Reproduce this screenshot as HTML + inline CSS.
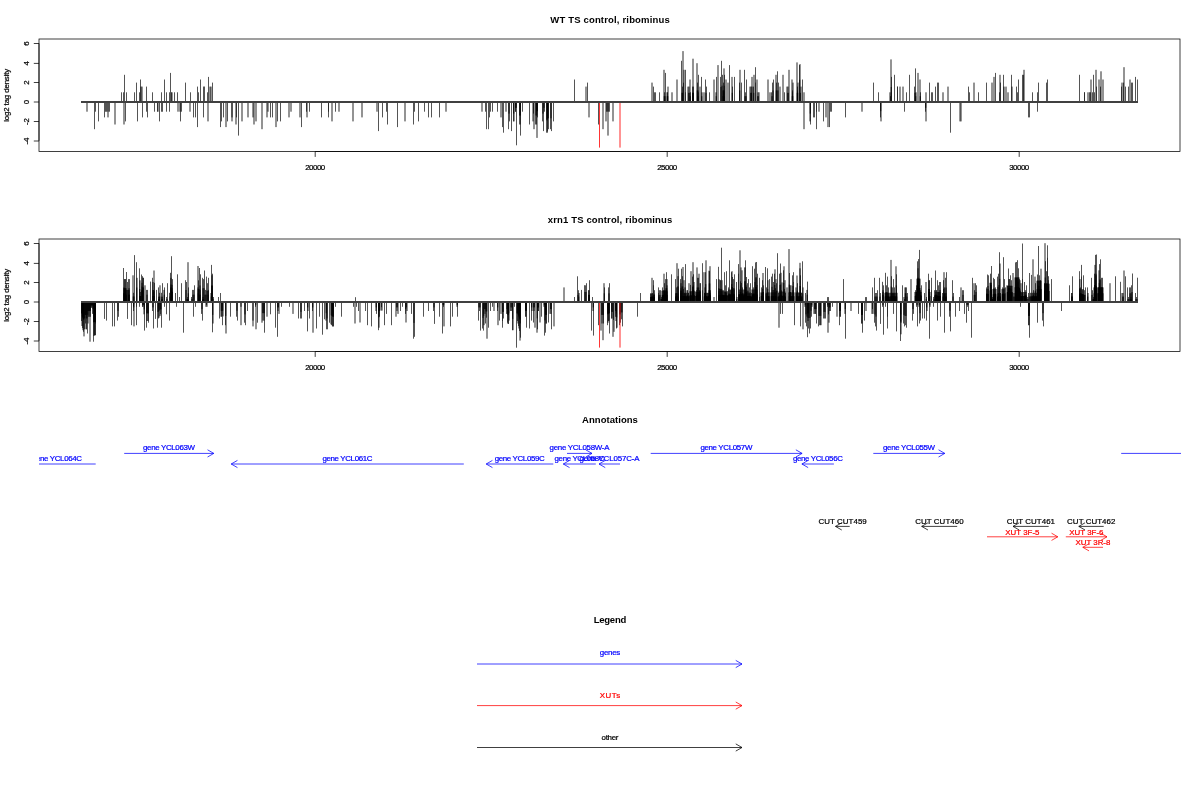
<!DOCTYPE html>
<html><head><meta charset="utf-8"><title>plot</title>
<style>
html,body{margin:0;padding:0;background:#fff;}
svg{display:block;font-family:"Liberation Sans",sans-serif;}
svg{will-change:transform;}
</style></head><body>
<svg width="1200" height="800" viewBox="0 0 1200 800">
<rect width="1200" height="800" fill="#fff"/>
<path d="M121.5 102V92.3M123.5 102V92.3M124.5 102V74.8M126.5 102V92.3M134.5 102V92.3M136.5 102V82.6M139.5 102V92.3M140.5 102V79.5M146.5 102V86.6M152.5 102V92.3M161.5 102V92.3M164.5 102V79.5M166.5 102V92.3M169.5 102V92.3M170.5 102V72.9M171.5 102V92.3M174.5 102V92.3M177.5 102V92.3M185.5 102V82.6M190.5 102V92.3M197.5 102V86.6M198.5 102V92.3M200.5 102V79.5M207.5 102V92.3M208.5 102V76.9M212.5 102V82.6M94.5 102V129.2M95.5 102V111.7M98.5 102V121.4M104.5 102V117.4M109.5 102V111.7M125.5 102V121.4M137.5 102V121.4M142.5 102V117.4M146.5 102V111.7M147.5 102V117.4M154.5 102V111.7M157.5 102V111.7M159.5 102V121.4M166.5 102V111.7M169.5 102V111.7M180.5 102V121.4M181.5 102V111.7M193.5 102V117.4M195.5 102V117.4M197.5 102V127.1M203.5 102V117.4M220.5 102V127.1M221.5 102V121.4M223.5 102V117.4M227.5 102V121.4M236.5 102V117.4M238.5 102V135.6M270.5 102V117.4M272.5 102V117.4M277.5 102V121.4M280.5 102V121.4M301.5 102V127.1M306.5 102V111.7M309.5 102V111.7M321.5 102V117.4M328.5 102V117.4M328.5 102V111.7M335.5 102V111.7M378.5 102V131.1M382.5 102V117.4M386.5 102V111.7M387.5 102V124.5M397.5 102V127.1M413.5 102V124.5M414.5 102V111.7M418.5 102V121.4M424.5 102V111.7M428.5 102V117.4M431.5 102V117.4M439.5 102V117.4M485.5 102V111.7M486.5 102V129.2M488.5 102V129.2M489.5 102V117.4M490.5 102V111.7M492.5 102V111.7M497.5 102V111.7M502.5 102V127.1M503.5 102V132.7M508.5 102V129.2M509.5 102V121.4M511.5 102V131.1M513.5 102V121.4M515.5 102V111.7M515.5 102V111.7M516.5 102V145.3M519.5 102V124.5M520.5 102V124.5M520.5 102V135.6M522.5 102V111.7M529.5 102V124.5M535.5 102V124.5M536.5 102V124.5M537.5 102V117.4M542.5 102V121.4M543.5 102V131.1M544.5 102V111.7M546.5 102V132.7M547.5 102V132.7M547.5 102V131.1M548.5 102V129.2M550.5 102V129.2M551.5 102V131.1M553.5 102V121.4M574.5 102V79.5M587.5 102V82.6M598.5 102V124.5M606.5 102V111.7M607.5 102V111.7M608.5 102V111.7M609.5 102V111.7M653.5 102V86.6M654.5 102V92.3M655.5 102V92.3M659.5 102V92.3M665.5 102V72.9M664.5 102V92.3M667.5 102V92.3M681.5 102V60.8M685.5 102V69.8M682.5 102V86.6M685.5 102V92.3M690.5 102V92.3M692.5 102V86.6M693.5 102V86.6M698.5 102V74.8M697.5 102V82.6M698.5 102V92.3M701.5 102V76.9M705.5 102V79.5M706.5 102V86.6M709.5 102V92.3M716.5 102V76.9M720.5 102V76.9M721.5 102V60.8M722.5 102V74.8M724.5 102V74.8M723.5 102V82.6M723.5 102V92.3M729.5 102V65.1M732.5 102V86.6M734.5 102V76.9M739.5 102V82.6M741.5 102V82.6M744.5 102V69.8M746.5 102V79.5M745.5 102V92.3M753.5 102V86.6M755.5 102V67.2M755.5 102V82.6M771.5 102V92.3M772.5 102V82.6M773.5 102V79.5M776.5 102V82.6M777.5 102V71.3M778.5 102V82.6M784.5 102V92.3M792.5 102V92.3M797.5 102V86.6M799.5 102V65.1M802.5 102V79.5M873.5 102V82.6M878.5 102V92.3M891.5 102V76.9M894.5 102V74.8M897.5 102V86.6M897.5 102V86.6M906.5 102V92.3M909.5 102V74.8M914.5 102V86.6M915.5 102V68.4M920.5 102V92.3M929.5 102V82.6M931.5 102V92.3M932.5 102V92.3M935.5 102V86.6M937.5 102V82.6M938.5 102V82.6M810.5 102V124.5M813.5 102V117.4M814.5 102V117.4M816.5 102V129.2M816.5 102V111.7M823.5 102V121.4M829.5 102V127.1M830.5 102V111.7M831.5 102V111.7M845.5 102V117.4M880.5 102V117.4M904.5 102V111.7M925.5 102V111.7M968.5 102V86.6M969.5 102V92.3M978.5 102V92.3M986.5 102V82.6M995.5 102V72.9M1000.5 102V82.6M999.5 102V92.3M1003.5 102V74.8M1011.5 102V74.8M1016.5 102V86.6M1017.5 102V92.3M1018.5 102V79.5M1022.5 102V74.8M1023.5 102V74.8M1032.5 102V92.3M1037.5 102V92.3M1038.5 102V82.6M1046.5 102V82.6M1047.5 102V79.5M1079.5 102V74.8M1084.5 102V92.3M1084.5 102V92.3M1092.5 102V92.3M1093.5 102V74.8M1094.5 102V92.3M950.5 102V132.7M1028.5 102V117.4M1029.5 102V117.4M1037.5 102V111.7M1096.5 102V86.6M1100.5 102V86.6M1121.5 102V86.6M1123.5 102V82.6M1125.5 102V86.6M1128.5 102V86.6M1131.5 102V82.6M1132.5 102V82.6M1135.5 102V76.9M1137.5 102V79.5M533.5 102V113.6M667.5 102V96.2M683.5 102V82.7M688.5 102V92.8M689.5 102V92.8M750.5 102V92.8M751.5 102V92.8M751.5 102V92.8M757.5 102V96.2M758.5 102V96.2M787.5 102V92.8M788.5 102V92.8M792.5 102V90.4M797.5 102V90.4M800.5 102V92.8M890.5 102V96.2" stroke="#1c1c1c" stroke-width="0.75" fill="none"/>
<path d="M141 102V86.6M142 102V86.6M172 102V92.3M204 102V86.6M204 102V86.6M210 102V86.6M211 102V86.6M87 102V111.7M106 102V111.7M106 102V111.7M108 102V117.4M108 102V111.7M115 102V124.5M124 102V124.5M158 102V111.7M162 102V111.7M162 102V111.7M178 102V111.7M180 102V111.7M190 102V111.7M208 102V121.4M226 102V127.1M232 102V117.4M232 102V121.4M236 102V124.5M242 102V121.4M248 102V117.4M253 102V117.4M254 102V124.5M256 102V121.4M262 102V129.2M267 102V117.4M268 102V111.7M276 102V127.1M289 102V117.4M291 102V111.7M300 102V117.4M307 102V117.4M332 102V121.4M339 102V111.7M353 102V121.4M362 102V117.4M377 102V111.7M405 102V121.4M446 102V111.7M482 102V111.7M501 102V117.4M506 102V111.7M514 102V121.4M533 102V121.4M534 102V129.2M537 102V137.9M586 102V86.6M589 102V117.4M603 102V129.2M606 102V121.4M608 102V135.6M613 102V121.4M652 102V82.6M664 102V69.8M667 102V92.3M668 102V86.6M672 102V92.3M677 102V79.5M683 102V51.1M684 102V69.8M688 102V86.6M689 102V86.6M690 102V79.5M693 102V58.7M697 102V63.2M700 102V86.6M702 102V92.3M704 102V92.3M714 102V79.5M716 102V92.3M718 102V65.1M724 102V68.4M726 102V79.5M728 102V82.6M732 102V76.9M740 102V69.8M750 102V86.6M751 102V86.6M752 102V86.6M752 102V76.9M754 102V74.8M757 102V79.5M758 102V92.3M759 102V92.3M768 102V79.5M770 102V92.3M776 102V74.8M780 102V86.6M783 102V74.8M787 102V86.6M788 102V86.6M789 102V69.8M792 102V79.5M793 102V82.6M797 102V62.4M798 102V82.6M800 102V64.1M801 102V86.6M804 102V92.3M804 102V129.2M890 102V92.3M891 102V59.4M900 102V86.6M903 102V86.6M916 102V92.3M918 102V72.9M920 102V79.5M926 102V92.3M943 102V92.3M948 102V86.6M810 102V121.4M819 102V111.7M826 102V117.4M828 102V127.1M862 102V111.7M881 102V121.4M926 102V121.4M974 102V82.6M992 102V82.6M994 102V76.9M1000 102V74.8M1004 102V86.6M1006 102V86.6M1008 102V92.3M1012 102V86.6M1024 102V69.8M1088 102V92.3M1090 102V92.3M1090 102V92.3M1091 102V79.5M960 102V121.4M961 102V121.4M1096 102V69.8M1099 102V79.5M1101 102V71.3M1103 102V79.5M1122 102V82.6M1124 102V67.2M1130 102V79.5M509 102V113.6M516 102V107.8M516 102V107.8M520 102V115.5M520 102V115.5M536 102V115.5M537 102V111.2M543 102V113.6M544 102V107.8M547 102V120.4M547 102V119.5M548 102V118.3M548 102V118.3M551 102V118.3M665 102V96.2M682 102V92.8M693 102V92.8M698 102V90.4M698 102V96.2M706 102V92.8M721 102V87.0M722 102V85.7M723 102V90.4M723 102V96.2M724 102V90.4M724 102V96.2M745 102V96.2M746 102V96.2M772 102V96.2M773 102V90.4M777 102V90.4M778 102V90.4M915 102V92.8" stroke="#000" stroke-width="0.85" fill="none"/>
<path d="M513.75 102V113.6M536.75 102V115.5M537.25 102V111.2M664.25 102V96.2M667.25 102V96.2M667.75 102V96.2M682.75 102V92.8M690.25 102V96.2M692.75 102V92.8M693.25 102V92.8M697.25 102V90.4M701.75 102V96.2M716.25 102V96.2M723.75 102V90.4M723.75 102V96.2M724.25 102V85.7M732.25 102V92.8M739.75 102V90.4M753.75 102V92.8M776.25 102V90.4M792.25 102V96.2M792.75 102V96.2M797.25 102V92.8M797.75 102V92.8M799.75 102V79.8M810.25 102V113.6M880.75 102V111.2M891.25 102V87.0M915.75 102V96.2M920.25 102V96.2M925.75 102V107.8" stroke="#000" stroke-width="0.8" fill="none"/>
<path d="M599.5 102V147.6" stroke="#ff0000" stroke-width="0.8" fill="none"/>
<path d="M620 102V147.6" stroke="#ff0000" stroke-width="0.85" fill="none"/>
<rect x="81" y="101" width="1057" height="2" fill="#fff"/>
<line x1="81" y1="102" x2="1138" y2="102" stroke="#000" stroke-width="1.5"/>
<rect x="39" y="39" width="1141" height="112.5" fill="none" stroke="#000" stroke-width="0.75" stroke-opacity="1"/>
<line x1="39" y1="43.4" x2="39" y2="140.8" stroke="#000" stroke-width="0.75"/>
<line x1="33.8" y1="43.5" x2="39" y2="43.5" stroke="#000" stroke-width="0.75"/>
<text x="28.6" y="43.5" font-size="7.92" fill="#000" stroke="#000" stroke-width="0.22" text-anchor="middle" transform="rotate(-90 28.6 43.5)">6</text>
<line x1="33.8" y1="63.4" x2="39" y2="63.4" stroke="#000" stroke-width="0.75"/>
<text x="28.6" y="63.4" font-size="7.92" fill="#000" stroke="#000" stroke-width="0.22" text-anchor="middle" transform="rotate(-90 28.6 63.4)">4</text>
<line x1="33.8" y1="82.5" x2="39" y2="82.5" stroke="#000" stroke-width="0.75"/>
<text x="28.6" y="82.5" font-size="7.92" fill="#000" stroke="#000" stroke-width="0.22" text-anchor="middle" transform="rotate(-90 28.6 82.5)">2</text>
<line x1="33.8" y1="102" x2="39" y2="102" stroke="#000" stroke-width="0.75"/>
<text x="28.6" y="102" font-size="7.92" fill="#000" stroke="#000" stroke-width="0.22" text-anchor="middle" transform="rotate(-90 28.6 102)">0</text>
<line x1="33.8" y1="121.5" x2="39" y2="121.5" stroke="#000" stroke-width="0.75"/>
<text x="28.6" y="121.5" font-size="7.92" fill="#000" stroke="#000" stroke-width="0.22" text-anchor="middle" transform="rotate(-90 28.6 121.5)">-2</text>
<line x1="33.8" y1="141" x2="39" y2="141" stroke="#000" stroke-width="0.75"/>
<text x="28.6" y="141" font-size="7.92" fill="#000" stroke="#000" stroke-width="0.22" text-anchor="middle" transform="rotate(-90 28.6 141)">-4</text>
<text x="9.4" y="95.25" font-size="7.92" fill="#000" stroke="#000" stroke-width="0.22" text-anchor="middle" textLength="53" lengthAdjust="spacing" transform="rotate(-90 9.4 95.25)">log2 tag density</text>
<line x1="315.2" y1="151.5" x2="1019.2" y2="151.5" stroke="#000" stroke-width="0.75"/>
<line x1="315.2" y1="151.5" x2="315.2" y2="156.9" stroke="#000" stroke-width="0.75"/>
<text x="315.2" y="169.9" font-size="7.92" fill="#000" stroke="#000" stroke-width="0.22" text-anchor="middle" textLength="20" lengthAdjust="spacing">20000</text>
<line x1="667.2" y1="151.5" x2="667.2" y2="156.9" stroke="#000" stroke-width="0.75"/>
<text x="667.2" y="169.9" font-size="7.92" fill="#000" stroke="#000" stroke-width="0.22" text-anchor="middle" textLength="20" lengthAdjust="spacing">25000</text>
<line x1="1019.2" y1="151.5" x2="1019.2" y2="156.9" stroke="#000" stroke-width="0.75"/>
<text x="1019.2" y="169.9" font-size="7.92" fill="#000" stroke="#000" stroke-width="0.22" text-anchor="middle" textLength="20" lengthAdjust="spacing">30000</text>
<text x="610" y="23" font-size="9.5" fill="#000" stroke="#000" stroke-width="0" text-anchor="middle" font-weight="bold" textLength="119.5" lengthAdjust="spacing">WT TS control, ribominus</text>
<path d="M81.5 302V321.0M82.5 302V328.1M83.5 302V331.8M84.5 302V329.3M85.5 302V323.5M86.5 302V329.3M87.5 302V333.5M88.5 302V316.8M89.5 302V316.8M90.5 302V316.8M91.5 302V307.7M92.5 302V313.9M93.5 302V341.7M94.5 302V335.2M95.5 302V335.2M95.5 302V323.5M104.5 302V318.9M106.5 302V320.6M112.5 302V326.4M114.5 302V326.4M117.5 302V320.6M118.5 302V316.8M127.5 302V318.9M131.5 302V325.2M133.5 302V306.0M133.5 302V311.0M136.5 302V325.2M136.5 302V306.8M139.5 302V306.8M142.5 302V306.8M144.5 302V330.6M146.5 302V327.7M148.5 302V322.7M152.5 302V311.0M153.5 302V328.5M155.5 302V318.9M157.5 302V327.7M158.5 302V318.5M160.5 302V314.3M161.5 302V327.7M164.5 302V306.8M166.5 302V314.3M169.5 302V320.6M123.5 302V268.0M124.5 302V279.1M125.5 302V279.1M126.5 302V272.0M127.5 302V282.0M128.5 302V279.1M129.5 302V279.1M133.5 302V292.8M134.5 302V255.1M136.5 302V262.2M139.5 302V268.3M140.5 302V292.0M141.5 302V274.5M142.5 302V276.2M143.5 302V277.8M146.5 302V289.9M147.5 302V289.9M150.5 302V281.6M152.5 302V277.8M154.5 302V282.8M153.5 302V292.0M156.5 302V289.9M158.5 302V287.4M159.5 302V292.8M161.5 302V292.8M162.5 302V283.2M164.5 302V287.4M166.5 302V297.0M167.5 302V283.2M169.5 302V292.8M170.5 302V272.8M171.5 302V256.2M172.5 302V279.1M175.5 302V293.0M177.5 302V274.3M179.5 302V297.0M181.5 302V283.2M185.5 302V280.2M186.5 302V282.0M187.5 302V297.0M188.5 302V287.4M191.5 302V297.0M192.5 302V289.9M193.5 302V289.9M194.5 302V285.3M198.5 302V280.3M199.5 302V268.0M200.5 302V274.3M202.5 302V277.8M203.5 302V279.1M204.5 302V270.5M205.5 302V289.9M206.5 302V276.6M207.5 302V283.2M208.5 302V277.8M208.5 302V289.9M211.5 302V264.9M212.5 302V273.7M213.5 302V297.0M218.5 302V297.0M220.5 302V293.0M176.5 302V306.8M183.5 302V332.7M193.5 302V316.7M195.5 302V306.8M201.5 302V313.9M202.5 302V320.6M212.5 302V332.3M219.5 302V318.5M221.5 302V316.7M222.5 302V325.2M225.5 302V325.2M230.5 302V316.7M236.5 302V316.7M237.5 302V320.6M244.5 302V322.7M245.5 302V325.2M247.5 302V311.0M255.5 302V306.8M257.5 302V322.7M264.5 302V332.7M270.5 302V314.3M275.5 302V327.7M277.5 302V336.8M281.5 302V306.8M289.5 302V306.8M298.5 302V318.5M300.5 302V318.5M301.5 302V318.5M304.5 302V311.0M307.5 302V331.4M309.5 302V318.5M312.5 302V311.0M316.5 302V328.5M319.5 302V316.7M322.5 302V334.7M324.5 302V319.3M326.5 302V329.3M327.5 302V329.3M329.5 302V322.7M331.5 302V325.2M332.5 302V326.4M333.5 302V326.4M335.5 302V306.8M341.5 302V316.7M353.5 302V306.8M356.5 302V306.8M358.5 302V311.0M355.5 302V297.2M365.5 302V311.0M367.5 302V325.2M371.5 302V326.4M376.5 302V313.9M378.5 302V330.2M379.5 302V316.7M384.5 302V325.2M386.5 302V313.9M391.5 302V325.2M400.5 302V311.0M402.5 302V306.8M405.5 302V313.9M411.5 302V313.9M413.5 302V338.7M414.5 302V336.8M423.5 302V316.7M428.5 302V311.0M433.5 302V311.0M434.5 302V323.9M439.5 302V316.7M442.5 302V333.5M443.5 302V306.8M450.5 302V326.4M452.5 302V316.7M457.5 302V316.7M478.5 302V320.6M479.5 302V311.0M480.5 302V330.6M482.5 302V328.5M483.5 302V330.6M485.5 302V323.5M486.5 302V317.7M488.5 302V327.7M490.5 302V311.0M492.5 302V306.8M497.5 302V311.0M499.5 302V320.6M502.5 302V327.7M502.5 302V321.0M503.5 302V318.5M506.5 302V313.9M507.5 302V322.7M508.5 302V323.9M510.5 302V311.0M511.5 302V311.0M512.5 302V330.2M514.5 302V306.8M516.5 302V347.7M517.5 302V321.0M518.5 302V326.0M519.5 302V331.0M520.5 302V337.7M525.5 302V316.7M526.5 302V327.7M529.5 302V328.5M531.5 302V320.6M533.5 302V322.5M537.5 302V329.3M538.5 302V311.0M541.5 302V316.7M544.5 302V335.6M545.5 302V332.7M546.5 302V323.5M548.5 302V322.5M551.5 302V329.3M591.5 302V330.6M593.5 302V335.6M598.5 302V325.2M603.5 302V323.5M607.5 302V325.2M608.5 302V321.0M609.5 302V333.5M611.5 302V318.5M615.5 302V316.8M616.5 302V328.5M619.5 302V325.2M620.5 302V322.7M621.5 302V319.3M622.5 302V326.4M637.5 302V316.7M780.5 302V313.9M782.5 302V313.9M794.5 302V325.2M800.5 302V326.4M805.5 302V322.7M806.5 302V326.4M807.5 302V337.2M808.5 302V328.5M809.5 302V333.5M810.5 302V328.5M811.5 302V316.7M815.5 302V313.9M816.5 302V323.5M818.5 302V326.4M819.5 302V325.2M820.5 302V325.2M823.5 302V318.5M824.5 302V318.5M825.5 302V318.5M827.5 302V306.8M829.5 302V311.0M830.5 302V311.0M832.5 302V306.8M839.5 302V325.2M840.5 302V316.7M845.5 302V338.7M858.5 302V313.9M861.5 302V323.5M862.5 302V332.7M864.5 302V320.6M874.5 302V322.7M875.5 302V326.4M876.5 302V330.6M880.5 302V323.9M882.5 302V306.8M883.5 302V334.7M885.5 302V306.8M887.5 302V328.5M887.5 302V316.7M893.5 302V313.9M896.5 302V331.4M900.5 302V341.0M903.5 302V323.5M904.5 302V326.4M905.5 302V325.2M906.5 302V327.7M912.5 302V320.6M913.5 302V313.9M916.5 302V306.8M917.5 302V326.4M919.5 302V323.5M920.5 302V320.6M922.5 302V318.5M924.5 302V318.5M926.5 302V320.6M929.5 302V338.7M933.5 302V306.8M937.5 302V320.6M940.5 302V316.7M944.5 302V332.7M949.5 302V316.7M950.5 302V331.4M955.5 302V316.7M959.5 302V311.0M964.5 302V313.9M966.5 302V322.7M967.5 302V306.8M968.5 302V311.0M971.5 302V337.7M1020.5 302V306.8M1028.5 302V325.2M1029.5 302V337.7M1037.5 302V322.7M1042.5 302V320.6M1043.5 302V326.4M1061.5 302V311.0M574.5 302V297.0M577.5 302V276.3M578.5 302V290.2M581.5 302V289.9M584.5 302V285.2M585.5 302V285.3M586.5 302V283.2M588.5 302V290.2M589.5 302V280.2M592.5 302V297.0M604.5 302V287.4M608.5 302V287.4M609.5 302V283.2M640.5 302V293.0M653.5 302V280.2M653.5 302V285.3M654.5 302V290.2M652.5 302V293.0M658.5 302V287.4M658.5 302V293.0M659.5 302V290.2M660.5 302V290.2M661.5 302V297.0M662.5 302V287.4M664.5 302V283.2M665.5 302V279.1M666.5 302V272.2M663.5 302V290.2M666.5 302V290.2M671.5 302V274.3M675.5 302V279.1M676.5 302V287.4M676.5 302V293.0M678.5 302V268.7M680.5 302V279.1M681.5 302V268.7M682.5 302V276.2M685.5 302V264.1M687.5 302V290.2M688.5 302V293.0M690.5 302V284.9M692.5 302V276.6M693.5 302V274.3M696.5 302V290.2M697.5 302V277.8M698.5 302V277.8M699.5 302V290.2M700.5 302V283.2M702.5 302V263.2M702.5 302V290.2M705.5 302V287.4M705.5 302V272.2M707.5 302V293.0M709.5 302V271.2M710.5 302V290.2M716.5 302V279.1M718.5 302V266.8M720.5 302V280.3M721.5 302V247.7M722.5 302V290.2M723.5 302V290.2M724.5 302V272.2M725.5 302V285.3M726.5 302V271.2M728.5 302V287.4M729.5 302V260.3M730.5 302V290.2M731.5 302V272.2M732.5 302V277.0M733.5 302V279.1M733.5 302V293.0M734.5 302V274.3M736.5 302V282.0M738.5 302V264.1M738.5 302V273.7M740.5 302V285.3M742.5 302V287.4M744.5 302V267.4M744.5 302V293.0M650.5 302V293.7M651.5 302V293.7M652.5 302V293.7M653.5 302V293.7M654.5 302V293.7M675.5 302V293.3M676.5 302V293.3M677.5 302V293.3M678.5 302V293.3M680.5 302V292.8M681.5 302V292.8M682.5 302V292.8M683.5 302V292.8M684.5 302V292.8M685.5 302V292.8M686.5 302V292.8M687.5 302V292.8M688.5 302V292.8M704.5 302V292.8M705.5 302V292.8M706.5 302V292.8M707.5 302V292.8M708.5 302V292.8M709.5 302V292.8M710.5 302V292.8M718.5 302V291.2M719.5 302V291.2M720.5 302V291.2M721.5 302V291.2M722.5 302V291.2M723.5 302V291.2M724.5 302V291.2M725.5 302V291.2M726.5 302V291.2M727.5 302V291.2M728.5 302V289.5M729.5 302V289.5M730.5 302V289.5M731.5 302V289.5M732.5 302V289.5M733.5 302V289.5M734.5 302V289.5M738.5 302V289.5M739.5 302V289.5M740.5 302V289.5M741.5 302V289.5M742.5 302V289.5M743.5 302V289.5M744.5 302V289.5M745.5 302V260.3M745.5 302V267.4M746.5 302V277.0M747.5 302V283.2M748.5 302V279.1M749.5 302V287.4M750.5 302V283.2M751.5 302V293.0M752.5 302V266.2M753.5 302V287.4M754.5 302V268.7M755.5 302V262.4M756.5 302V262.0M757.5 302V273.7M759.5 302V277.8M759.5 302V297.0M761.5 302V287.4M762.5 302V280.2M763.5 302V285.3M765.5 302V267.0M766.5 302V287.4M767.5 302V268.3M769.5 302V279.1M771.5 302V276.6M772.5 302V273.7M773.5 302V282.0M774.5 302V273.7M776.5 302V283.2M777.5 302V253.2M778.5 302V293.0M779.5 302V273.7M780.5 302V263.5M783.5 302V270.3M785.5 302V293.0M789.5 302V273.0M792.5 302V275.3M793.5 302V272.2M793.5 302V282.0M797.5 302V283.2M800.5 302V275.3M801.5 302V293.0M802.5 302V261.3M805.5 302V293.0M807.5 302V281.6M745.5 302V292.4M746.5 302V292.4M747.5 302V292.4M748.5 302V292.4M749.5 302V292.4M750.5 302V292.4M843.5 302V279.1M872.5 302V287.4M874.5 302V277.8M875.5 302V293.0M876.5 302V293.0M877.5 302V290.2M879.5 302V277.8M880.5 302V293.0M882.5 302V281.8M883.5 302V285.3M885.5 302V272.8M886.5 302V285.3M887.5 302V276.6M888.5 302V287.4M891.5 302V276.2M892.5 302V287.4M893.5 302V279.1M894.5 302V287.4M894.5 302V297.0M896.5 302V274.3M902.5 302V285.3M905.5 302V287.4M906.5 302V287.4M907.5 302V293.0M915.5 302V290.2M916.5 302V285.3M917.5 302V261.3M918.5 302V259.1M919.5 302V249.9M920.5 302V290.2M921.5 302V285.3M924.5 302V293.0M926.5 302V297.0M928.5 302V273.7M929.5 302V280.3M931.5 302V277.8M931.5 302V290.2M933.5 302V297.0M934.5 302V290.2M917.5 302V278.7M918.5 302V278.7M919.5 302V278.7M928.5 302V292.0M929.5 302V292.0M935.5 302V270.5M936.5 302V290.2M937.5 302V280.2M938.5 302V285.3M939.5 302V282.0M940.5 302V282.0M942.5 302V293.0M943.5 302V280.2M944.5 302V287.4M945.5 302V277.8M946.5 302V272.2M952.5 302V280.2M953.5 302V293.0M959.5 302V297.0M962.5 302V290.2M963.5 302V290.2M972.5 302V277.8M974.5 302V290.2M975.5 302V283.2M976.5 302V285.3M986.5 302V287.4M987.5 302V274.5M988.5 302V275.3M990.5 302V273.7M991.5 302V266.0M992.5 302V297.0M993.5 302V277.8M994.5 302V279.1M995.5 302V287.4M997.5 302V276.6M998.5 302V273.7M998.5 302V293.0M999.5 302V252.2M1000.5 302V293.0M1002.5 302V287.4M1003.5 302V257.2M1004.5 302V279.1M1005.5 302V287.4M1008.5 302V268.5M1009.5 302V279.1M1010.5 302V275.3M1011.5 302V280.2M1015.5 302V262.4M1016.5 302V262.0M1017.5 302V260.2M1018.5 302V268.3M1019.5 302V279.1M1022.5 302V279.1M1022.5 302V243.5M1024.5 302V282.0M1025.5 302V290.2M1026.5 302V285.3M1027.5 302V297.0M1028.5 302V293.0M1029.5 302V273.0M935.5 302V292.0M936.5 302V292.0M937.5 302V292.0M938.5 302V292.0M939.5 302V292.0M940.5 302V292.0M986.5 302V289.1M987.5 302V289.1M988.5 302V289.1M990.5 302V282.8M991.5 302V282.8M1007.5 302V285.8M1008.5 302V285.8M1009.5 302V285.8M1010.5 302V285.8M1011.5 302V285.8M1015.5 302V277.4M1016.5 302V277.4M1017.5 302V277.4M1018.5 302V277.4M1031.5 302V274.9M1033.5 302V290.2M1035.5 302V283.2M1036.5 302V297.0M1037.5 302V274.5M1038.5 302V246.0M1039.5 302V275.3M1040.5 302V280.2M1045.5 302V261.2M1046.5 302V271.2M1047.5 302V245.3M1047.5 302V257.8M1048.5 302V276.2M1048.5 302V280.2M1044.5 302V283.2M1051.5 302V279.1M1069.5 302V285.3M1071.5 302V293.0M1072.5 302V276.3M1079.5 302V271.2M1081.5 302V264.9M1081.5 302V276.6M1080.5 302V287.4M1082.5 302V290.2M1083.5 302V275.3M1084.5 302V290.2M1085.5 302V287.4M1087.5 302V287.4M1091.5 302V277.8M1092.5 302V290.2M1093.5 302V297.0M1094.5 302V273.7M1095.5 302V254.9M1096.5 302V254.5M1098.5 302V287.4M1099.5 302V264.1M1100.5 302V259.3M1101.5 302V277.8M1102.5 302V277.8M1115.5 302V276.3M1120.5 302V281.8M1030.5 302V292.8M1031.5 302V292.8M1032.5 302V292.8M1033.5 302V292.8M1034.5 302V292.8M1035.5 302V292.8M1036.5 302V292.8M1037.5 302V280.7M1038.5 302V280.7M1039.5 302V280.7M1040.5 302V280.7M1044.5 302V283.7M1045.5 302V283.7M1046.5 302V283.7M1047.5 302V283.7M1048.5 302V283.7M1079.5 302V289.1M1080.5 302V289.1M1081.5 302V289.1M1082.5 302V289.1M1083.5 302V289.1M1094.5 302V287.4M1095.5 302V287.4M1096.5 302V287.4M1098.5 302V287.4M1099.5 302V287.4M1100.5 302V287.4M1101.5 302V287.4M1102.5 302V287.4M1125.5 302V276.3M1127.5 302V287.4M1128.5 302V297.0M1129.5 302V287.4M1130.5 302V287.4M1131.5 302V285.3M1132.5 302V273.5M1135.5 302V293.0M1136.5 302V297.0M1137.5 302V277.7M82.5 302V316.4M83.5 302V318.9M94.5 302V321.9M124.5 302V293.3M125.5 302V294.7M142.5 302V290.5M143.5 302V304.9M147.5 302V313.4M153.5 302V290.0M159.5 302V310.4M159.5 302V299.0M171.5 302V291.7M206.5 302V304.9M211.5 302V296.6M262.5 302V313.2M263.5 302V313.2M278.5 302V307.4M381.5 302V307.2M396.5 302V307.4M397.5 302V307.4M406.5 302V307.4M484.5 302V309.1M508.5 302V313.2M518.5 302V314.9M519.5 302V317.9M534.5 302V307.4M537.5 302V307.4M550.5 302V309.1M601.5 302V314.9M602.5 302V314.9M608.5 302V313.2M612.5 302V311.9M613.5 302V319.9M616.5 302V313.4M651.5 302V296.6M662.5 302V295.2M663.5 302V295.2M663.5 302V295.2M664.5 302V294.9M664.5 302V295.2M664.5 302V295.2M664.5 302V295.2M665.5 302V295.2M665.5 302V295.2M666.5 302V295.2M666.5 302V295.2M666.5 302V295.2M677.5 302V286.5M683.5 302V288.9M684.5 302V293.3M689.5 302V295.5M690.5 302V295.5M690.5 302V295.5M691.5 302V295.5M691.5 302V295.5M692.5 302V295.5M692.5 302V295.5M692.5 302V295.5M693.5 302V290.0M693.5 302V295.5M693.5 302V294.9M693.5 302V295.5M693.5 302V295.5M693.5 302V295.5M694.5 302V295.5M694.5 302V295.5M695.5 302V296.0M696.5 302V296.0M696.5 302V296.0M697.5 302V296.0M697.5 302V296.0M698.5 302V296.0M698.5 302V296.0M699.5 302V290.7M699.5 302V296.0M699.5 302V296.0M699.5 302V296.0M704.5 302V293.3M705.5 302V293.3M706.5 302V299.0M709.5 302V283.2M709.5 302V294.9M719.5 302V288.7M740.5 302V281.3M741.5 302V283.0M742.5 302V296.6M752.5 302V294.5M753.5 302V294.5M754.5 302V294.5M755.5 302V294.5M755.5 302V294.5M756.5 302V294.5M756.5 302V294.5M761.5 302V296.2M762.5 302V296.2M762.5 302V296.2M767.5 302V296.2M767.5 302V296.2M768.5 302V296.2M768.5 302V296.2M771.5 302V296.2M772.5 302V296.2M773.5 302V296.2M774.5 302V296.2M774.5 302V296.2M775.5 302V288.2M775.5 302V296.2M775.5 302V296.2M775.5 302V296.2M779.5 302V295.8M780.5 302V295.8M780.5 302V295.8M781.5 302V290.3M781.5 302V295.8M781.5 302V295.8M781.5 302V295.8M782.5 302V295.8M782.5 302V295.8M783.5 302V295.8M783.5 302V295.8M784.5 302V288.9M784.5 302V295.8M784.5 302V295.8M784.5 302V295.8M789.5 302V292.0M789.5 302V296.2M789.5 302V296.2M789.5 302V296.2M790.5 302V292.0M790.5 302V296.2M790.5 302V296.2M790.5 302V296.2M791.5 302V296.2M791.5 302V296.2M792.5 302V296.2M793.5 302V296.2M796.5 302V293.3M796.5 302V296.2M796.5 302V296.2M796.5 302V296.2M797.5 302V296.2M797.5 302V296.2M798.5 302V296.6M798.5 302V296.2M799.5 302V296.6M799.5 302V296.6M799.5 302V296.6M799.5 302V296.2M799.5 302V296.2M799.5 302V296.2M800.5 302V296.2M800.5 302V296.2M800.5 302V296.2M814.5 302V309.1M828.5 302V314.4M872.5 302V309.1M885.5 302V296.6M885.5 302V296.5M886.5 302V296.6M886.5 302V296.5M887.5 302V296.5M888.5 302V299.0M888.5 302V296.5M889.5 302V299.0M889.5 302V296.5M890.5 302V296.5M890.5 302V296.5M891.5 302V296.5M891.5 302V296.5M892.5 302V296.5M893.5 302V296.5M894.5 302V296.5M895.5 302V296.5M895.5 302V296.5M896.5 302V296.5M896.5 302V296.5M904.5 302V299.0M915.5 302V296.0M916.5 302V296.0M916.5 302V296.0M917.5 302V288.0M917.5 302V296.0M917.5 302V296.0M918.5 302V288.0M918.5 302V296.0M918.5 302V296.0M919.5 302V288.0M919.5 302V296.0M919.5 302V296.0M920.5 302V296.0M920.5 302V296.0M929.5 302V296.0M990.5 302V290.5M993.5 302V294.2M994.5 302V294.2M995.5 302V294.2M998.5 302V296.8M999.5 302V296.8M999.5 302V296.8M1002.5 302V294.2M1003.5 302V294.2M1007.5 302V292.3M1008.5 302V292.3M1008.5 302V292.3M1009.5 302V292.3M1009.5 302V292.3M1010.5 302V292.3M1011.5 302V292.3M1012.5 302V292.3M1013.5 302V296.6M1014.5 302V296.6M1015.5 302V287.3M1016.5 302V287.3M1017.5 302V287.3M1018.5 302V287.3M1018.5 302V296.0M1019.5 302V288.9M1019.5 302V296.0M1019.5 302V296.0M1019.5 302V296.0M1020.5 302V290.7M1020.5 302V296.0M1020.5 302V296.0M1020.5 302V296.0M1021.5 302V296.6M1021.5 302V296.0M1021.5 302V296.6M1021.5 302V296.0M1022.5 302V296.6M1022.5 302V296.0M1023.5 302V296.0M1024.5 302V296.0M1025.5 302V296.0M1037.5 302V289.2M1038.5 302V289.2M1039.5 302V289.2M1040.5 302V289.2M1040.5 302V289.2M1045.5 302V291.0M1045.5 302V291.0M1046.5 302V291.0M1047.5 302V291.0M1048.5 302V291.0M1094.5 302V293.3M1094.5 302V293.3M1095.5 302V286.0M1095.5 302V293.3M1095.5 302V293.3M1095.5 302V293.3M1096.5 302V293.3M1096.5 302V293.3M1096.5 302V293.3M1096.5 302V293.3M1099.5 302V288.9M1099.5 302V293.3M1099.5 302V293.3M1099.5 302V293.3M1100.5 302V293.3M1100.5 302V293.3M1101.5 302V293.3M1101.5 302V293.3M1102.5 302V293.3M1102.5 302V293.3M1122.5 302V296.6M1123.5 302V296.6" stroke="#1c1c1c" stroke-width="0.75" fill="none"/>
<path d="M82 302V326.0M83 302V330.2M84 302V336.4M86 302V329.3M88 302V323.5M90 302V341.7M92 302V307.7M94 302V336.0M95 302V335.2M134 302V326.4M143 302V306.8M144 302V314.3M147 302V321.0M148 302V321.0M159 302V317.7M160 302V316.0M125 302V279.1M124 302V287.4M126 302V289.9M129 302V289.9M133 302V275.3M137 302V277.8M140 302V280.3M142 302V282.8M143 302V277.8M145 302V285.3M153 302V282.0M154 302V270.5M159 302V297.0M160 302V285.3M162 302V297.0M164 302V289.9M171 302V277.8M172 302V284.9M188 302V262.2M198 302V266.0M198 302V287.4M200 302V289.9M203 302V297.0M211 302V293.0M212 302V275.3M206 302V306.8M207 302V306.8M213 302V323.5M221 302V316.7M223 302V316.4M226 302V333.5M241 302V325.2M241 302V306.8M253 302V326.4M253 302V320.6M256 302V329.3M262 302V322.7M263 302V320.6M264 302V320.6M267 302V316.7M278 302V311.0M279 302V313.9M293 302V313.9M308 302V311.0M313 302V332.7M326 302V320.6M331 302V324.3M333 302V326.4M355 302V323.5M360 302V322.5M376 302V311.0M379 302V327.7M381 302V310.6M382 302V310.6M396 302V316.7M397 302V311.0M398 302V313.9M406 302V322.5M407 302V311.0M444 302V326.4M457 302V306.8M484 302V325.2M485 302V313.9M487 302V338.7M494 302V311.0M498 302V325.2M501 302V313.9M508 302V323.9M509 302V320.6M513 302V330.2M518 302V323.5M519 302V328.5M520 302V340.6M526 302V316.7M532 302V311.0M534 302V311.0M535 302V327.7M537 302V332.7M538 302V311.0M540 302V322.5M544 302V306.8M546 302V323.5M550 302V313.9M551 302V313.9M554 302V326.4M593 302V311.0M601 302V330.6M602 302V323.5M603 302V340.2M608 302V322.7M609 302V320.6M612 302V318.5M613 302V336.8M614 302V331.8M616 302V321.0M617 302V327.7M779 302V327.7M803 302V329.3M805 302V306.8M808 302V321.0M812 302V306.8M814 302V313.9M815 302V313.9M821 302V325.2M828 302V332.7M829 302V322.7M837 302V316.7M828 302V297.2M840 302V316.7M845 302V313.9M851 302V311.0M862 302V323.5M866 302V311.0M872 302V313.9M873 302V313.9M901 302V334.3M901 302V322.7M919 302V306.8M927 302V311.0M930 302V306.8M866 302V297.2M1029 302V325.2M564 302V287.4M579 302V293.0M589 302V290.2M604 302V283.2M651 302V293.0M652 302V277.8M664 302V273.7M667 302V279.1M667 302V285.3M665 302V290.2M677 302V263.2M678 302V276.2M681 302V283.2M683 302V267.0M684 302V280.2M685 302V287.4M687 302V290.2M689 302V283.2M691 302V271.2M693 302V262.2M694 302V282.0M693 302V290.2M697 302V267.4M699 302V273.7M700 302V283.2M704 302V272.2M705 302V287.4M706 302V260.3M707 302V297.0M709 302V270.7M710 302V266.2M709 302V290.2M714 302V297.0M719 302V279.1M720 302V279.9M722 302V280.2M724 302V297.0M726 302V293.0M732 302V271.2M737 302V297.0M740 302V250.3M741 302V267.4M742 302V270.3M743 302V293.0M662 302V290.7M663 302V290.7M664 302V290.7M665 302V290.7M666 302V290.7M667 302V290.7M690 302V291.2M691 302V291.2M692 302V291.2M693 302V291.2M694 302V291.2M695 302V291.2M696 302V292.0M697 302V292.0M698 302V292.0M699 302V292.0M700 302V292.0M746 302V285.3M756 302V277.0M763 302V273.0M768 302V280.2M775 302V269.3M776 302V279.1M781 302V272.8M782 302V282.4M784 302V266.3M785 302V280.2M787 302V287.4M789 302V249.1M790 302V285.3M791 302V285.3M796 302V287.4M797 302V275.5M799 302V293.0M800 302V268.3M800 302V262.8M803 302V287.4M807 302V289.9M828 302V297.0M752 302V289.5M753 302V289.5M754 302V289.5M755 302V289.5M756 302V289.5M757 302V289.5M761 302V292.4M762 302V292.4M763 302V292.4M767 302V292.4M768 302V292.4M769 302V292.4M771 302V292.4M772 302V292.4M773 302V292.4M774 302V292.4M775 302V292.4M776 302V292.4M779 302V291.6M780 302V291.6M781 302V291.6M782 302V291.6M783 302V291.6M784 302V291.6M785 302V291.6M789 302V292.4M790 302V292.4M791 302V292.4M792 302V292.4M793 302V292.4M794 302V292.4M796 302V292.4M797 302V292.4M798 302V292.4M799 302V292.4M800 302V292.4M801 302V292.4M866 302V297.0M883 302V290.2M886 302V293.0M889 302V297.0M891 302V259.9M896 302V266.3M904 302V297.0M905 302V287.4M911 302V279.1M918 302V268.3M926 302V282.0M929 302V280.2M917 302V278.7M918 302V278.7M919 302V278.7M920 302V278.7M915 302V292.0M916 302V292.0M917 302V292.0M918 302V292.0M919 302V292.0M920 302V292.0M921 302V292.0M885 302V292.8M886 302V292.8M887 302V292.8M888 302V292.8M889 302V292.8M890 302V292.8M891 302V292.8M892 302V292.8M893 302V292.8M894 302V292.8M895 302V292.8M896 302V292.8M897 302V292.8M929 302V292.0M930 302V292.0M936 302V290.2M944 302V272.2M946 302V293.0M961 302V287.4M974 302V283.2M1000 302V263.5M1007 302V285.3M1009 302V279.1M1013 302V273.0M1014 302V293.0M1020 302V280.2M1021 302V283.2M1022 302V293.0M990 302V282.8M991 302V282.8M993 302V289.1M994 302V289.1M995 302V289.1M996 302V289.1M998 302V293.3M999 302V293.3M1000 302V293.3M1002 302V289.1M1003 302V289.1M1004 302V289.1M1008 302V285.8M1009 302V285.8M1010 302V285.8M1011 302V285.8M1012 302V285.8M1015 302V277.4M1016 302V277.4M1017 302V277.4M1018 302V277.4M1019 302V277.4M1019 302V292.0M1020 302V292.0M1021 302V292.0M1022 302V292.0M1023 302V292.0M1024 302V292.0M1025 302V292.0M1026 302V292.0M1033 302V259.3M1035 302V276.6M1041 302V268.7M1045 302V243.2M1072 302V293.0M1080 302V279.1M1088 302V293.0M1095 302V264.9M1096 302V275.3M1097 302V287.4M1099 302V270.3M1100 302V280.2M1102 302V287.4M1110 302V283.2M1122 302V293.0M1123 302V293.0M1124 302V270.5M1037 302V280.7M1038 302V280.7M1039 302V280.7M1040 302V280.7M1041 302V280.7M1045 302V283.7M1046 302V283.7M1047 302V283.7M1048 302V283.7M1049 302V283.7M1094 302V287.4M1095 302V287.4M1096 302V287.4M1097 302V287.4M1099 302V287.4M1100 302V287.4M1101 302V287.4M1102 302V287.4M1103 302V287.4M1131 302V297.0M82 302V313.4M83 302V317.6M84 302V318.4M85 302V314.9M86 302V314.9M87 302V318.4M88 302V310.9M89 302V310.9M90 302V310.9M91 302V305.4M92 302V305.4M93 302V309.1M94 302V321.9M95 302V321.9M95 302V314.9M118 302V310.9M124 302V288.2M125 302V288.2M126 302V288.2M127 302V290.0M128 302V290.0M129 302V288.2M134 302V296.5M140 302V296.0M141 302V296.0M142 302V286.5M143 302V287.5M147 302V294.7M153 302V307.4M153 302V296.0M154 302V296.0M158 302V311.9M159 302V296.5M161 302V309.4M162 302V296.5M167 302V299.0M170 302V296.5M171 302V284.5M172 302V288.2M186 302V290.0M187 302V299.0M188 302V299.0M192 302V299.0M193 302V294.7M194 302V294.7M199 302V289.0M200 302V285.4M202 302V309.1M203 302V288.2M204 302V288.2M205 302V294.7M206 302V294.7M207 302V290.7M208 302V290.7M208 302V294.7M212 302V285.0M213 302V299.0M222 302V310.8M237 302V310.8M245 302V314.4M301 302V311.9M327 302V318.4M332 302V315.9M333 302V316.6M379 302V310.8M414 302V322.9M434 302V307.4M443 302V304.9M479 302V307.4M480 302V307.4M483 302V317.9M486 302V311.4M503 302V311.9M503 302V311.9M507 302V309.1M508 302V314.4M511 302V307.4M512 302V307.4M517 302V313.4M518 302V313.4M519 302V316.4M520 302V319.4M526 302V310.8M538 302V307.4M545 302V320.4M546 302V314.9M578 302V294.9M585 302V292.0M586 302V292.0M589 302V294.9M608 302V313.4M609 302V313.4M609 302V293.3M616 302V310.9M620 302V314.4M621 302V312.4M622 302V312.4M651 302V297.0M652 302V297.0M652 302V297.0M653 302V296.6M653 302V296.6M653 302V297.0M653 302V297.0M653 302V297.0M653 302V297.0M654 302V294.9M654 302V297.0M654 302V294.9M654 302V297.0M654 302V297.0M654 302V297.0M659 302V294.9M659 302V296.6M660 302V294.9M661 302V299.0M662 302V299.0M663 302V294.9M664 302V294.9M665 302V290.7M666 302V288.2M666 302V294.9M676 302V293.3M676 302V296.6M676 302V296.8M676 302V296.8M676 302V296.8M676 302V296.8M677 302V296.8M677 302V296.8M677 302V296.8M678 302V296.8M678 302V296.8M681 302V288.2M681 302V296.5M681 302V296.5M681 302V296.5M682 302V286.5M682 302V296.5M682 302V296.5M682 302V296.5M683 302V296.5M683 302V296.5M684 302V296.5M685 302V296.5M685 302V296.5M686 302V296.5M686 302V296.5M687 302V296.5M687 302V296.5M688 302V296.6M688 302V296.5M688 302V296.6M688 302V296.5M693 302V286.8M697 302V294.9M698 302V287.5M699 302V294.9M700 302V294.9M705 302V296.5M705 302V296.5M705 302V296.5M706 302V296.5M706 302V296.5M706 302V296.5M707 302V296.6M707 302V296.5M708 302V296.6M708 302V296.5M709 302V296.5M709 302V296.5M710 302V294.9M710 302V296.5M710 302V296.5M710 302V296.5M719 302V295.5M719 302V295.5M720 302V295.5M720 302V295.5M721 302V289.0M721 302V295.5M721 302V295.5M721 302V295.5M722 302V294.9M722 302V295.5M722 302V295.5M722 302V295.5M723 302V294.9M723 302V295.5M723 302V295.5M723 302V295.5M724 302V294.9M724 302V295.5M724 302V295.5M724 302V295.5M725 302V292.0M725 302V295.5M725 302V295.5M725 302V295.5M726 302V292.0M726 302V295.5M726 302V295.5M726 302V295.5M727 302V295.5M727 302V295.5M728 302V295.5M728 302V295.5M729 302V293.3M729 302V294.5M729 302V294.5M729 302V294.5M730 302V294.9M730 302V294.5M730 302V294.9M730 302V294.5M731 302V294.9M731 302V294.9M731 302V294.5M731 302V294.5M732 302V287.0M732 302V294.5M732 302V294.5M732 302V294.5M733 302V288.2M733 302V296.6M733 302V294.5M733 302V294.5M733 302V296.6M733 302V294.5M734 302V288.2M734 302V294.5M734 302V296.6M734 302V296.6M734 302V294.5M734 302V294.5M739 302V294.5M739 302V294.5M739 302V294.5M740 302V294.5M740 302V294.5M741 302V294.5M741 302V294.5M742 302V294.5M742 302V294.5M743 302V294.5M743 302V294.5M744 302V294.5M744 302V296.6M744 302V294.5M745 302V281.3M745 302V281.3M745 302V296.2M745 302V296.6M745 302V296.6M745 302V296.6M745 302V294.5M745 302V294.5M745 302V296.2M746 302V287.0M746 302V296.2M746 302V287.0M746 302V296.2M746 302V296.2M746 302V296.2M747 302V290.7M747 302V296.2M747 302V296.2M747 302V296.2M748 302V290.7M748 302V296.2M748 302V296.2M748 302V296.2M749 302V293.3M749 302V296.2M749 302V296.2M749 302V296.2M750 302V293.3M750 302V296.2M750 302V296.2M750 302V296.2M751 302V296.6M751 302V296.6M752 302V296.6M753 302V293.3M754 302V293.3M755 302V282.0M756 302V278.2M757 302V285.0M762 302V293.3M763 302V292.0M766 302V293.3M767 302V293.3M772 302V286.8M773 302V290.0M774 302V290.0M777 302V290.7M778 302V296.6M779 302V296.6M780 302V285.0M793 302V286.0M793 302V290.0M801 302V296.6M802 302V296.6M806 302V314.4M807 302V316.6M808 302V317.9M809 302V317.9M810 302V317.9M811 302V310.8M816 302V309.1M819 302V315.9M820 302V315.9M824 302V311.9M825 302V311.9M830 302V307.4M840 302V310.8M862 302V314.9M875 302V314.4M875 302V296.6M876 302V316.6M876 302V296.6M877 302V296.6M880 302V296.6M883 302V304.9M883 302V292.0M886 302V292.0M887 302V292.0M888 302V293.3M892 302V293.3M893 302V293.3M894 302V293.3M894 302V299.0M904 302V314.9M905 302V315.9M906 302V315.9M906 302V293.3M907 302V296.6M913 302V309.1M916 302V294.9M917 302V304.9M917 302V292.0M917 302V292.0M918 302V277.6M918 302V288.0M918 302V288.0M919 302V288.0M920 302V313.2M920 302V294.9M920 302V294.9M921 302V294.9M929 302V289.0M929 302V296.0M929 302V296.0M934 302V299.0M935 302V294.9M935 302V296.0M936 302V294.9M936 302V296.0M936 302V296.0M936 302V296.0M937 302V294.9M937 302V296.0M937 302V296.0M937 302V296.0M938 302V292.0M938 302V296.0M938 302V296.0M938 302V296.0M939 302V292.0M939 302V296.0M939 302V296.0M939 302V296.0M940 302V290.0M940 302V296.0M940 302V296.0M940 302V296.0M943 302V296.6M944 302V293.3M945 302V293.3M946 302V287.5M950 302V310.8M953 302V296.6M963 302V294.9M967 302V304.9M968 302V304.9M975 302V294.9M976 302V292.0M987 302V293.3M987 302V294.2M987 302V294.2M987 302V294.2M988 302V286.0M988 302V294.2M988 302V294.2M988 302V294.2M991 302V285.0M991 302V290.5M991 302V290.5M991 302V290.5M992 302V299.0M992 302V299.0M993 302V299.0M994 302V288.2M995 302V293.3M998 302V286.8M998 302V296.6M999 302V285.0M999 302V296.6M1000 302V296.6M1003 302V293.3M1004 302V288.2M1005 302V293.3M1008 302V292.3M1008 302V292.3M1009 302V288.2M1009 302V292.3M1009 302V292.3M1009 302V292.3M1010 302V288.2M1010 302V292.3M1010 302V292.3M1010 302V292.3M1011 302V288.9M1011 302V292.3M1011 302V292.3M1011 302V292.3M1016 302V278.2M1016 302V287.3M1016 302V287.3M1016 302V287.3M1017 302V278.0M1017 302V287.3M1017 302V287.3M1017 302V287.3M1018 302V281.8M1018 302V287.3M1018 302V287.3M1018 302V287.3M1019 302V288.2M1019 302V288.2M1025 302V294.9M1026 302V294.9M1027 302V299.0M1028 302V299.0M1029 302V315.9M1029 302V296.6M1030 302V296.5M1031 302V296.5M1031 302V296.5M1032 302V296.5M1032 302V296.5M1033 302V296.5M1033 302V296.5M1034 302V296.5M1034 302V296.5M1035 302V296.5M1035 302V296.5M1036 302V299.0M1036 302V296.5M1036 302V299.0M1036 302V296.5M1037 302V299.0M1037 302V299.0M1037 302V296.5M1037 302V296.5M1038 302V285.5M1038 302V289.2M1038 302V289.2M1038 302V289.2M1039 302V286.0M1039 302V289.2M1039 302V289.2M1039 302V289.2M1040 302V288.9M1040 302V289.2M1040 302V289.2M1040 302V289.2M1043 302V313.2M1045 302V290.7M1045 302V291.0M1045 302V291.0M1045 302V291.0M1046 302V283.5M1046 302V291.0M1046 302V291.0M1046 302V291.0M1047 302V283.5M1047 302V283.5M1047 302V291.0M1047 302V291.0M1047 302V291.0M1047 302V291.0M1048 302V286.5M1048 302V288.9M1048 302V286.5M1048 302V288.9M1048 302V291.0M1048 302V291.0M1048 302V291.0M1048 302V291.0M1072 302V296.6M1080 302V293.3M1080 302V294.2M1080 302V294.2M1080 302V294.2M1081 302V293.3M1081 302V293.3M1081 302V294.2M1081 302V294.2M1081 302V294.2M1081 302V294.2M1082 302V294.9M1082 302V294.2M1082 302V294.9M1082 302V294.2M1082 302V294.9M1082 302V294.2M1083 302V294.9M1083 302V294.9M1083 302V294.2M1083 302V294.2M1084 302V294.9M1084 302V294.9M1085 302V294.9M1092 302V294.9M1093 302V299.0M1094 302V299.0M1094 302V299.0M1095 302V285.0M1095 302V293.3M1095 302V293.3M1095 302V293.3M1096 302V273.8M1096 302V293.3M1096 302V293.3M1096 302V293.3M1099 302V293.3M1099 302V293.3M1099 302V293.3M1099 302V293.3M1100 302V279.3M1100 302V293.3M1100 302V293.3M1100 302V293.3M1101 302V287.5M1101 302V293.3M1101 302V293.3M1101 302V293.3M1102 302V287.5M1102 302V293.3M1102 302V293.3M1102 302V293.3M1128 302V299.0M1129 302V299.0M1130 302V293.3M1131 302V293.3M1132 302V292.0M1136 302V299.0M1137 302V299.0" stroke="#000" stroke-width="0.85" fill="none"/>
<path d="M81.75 302V313.4M82.25 302V316.4M82.75 302V317.6M83.25 302V318.9M83.75 302V319.9M84.25 302V318.4M85.75 302V314.9M86.25 302V318.4M87.75 302V314.9M88.25 302V310.9M89.75 302V310.9M90.25 302V310.9M91.75 302V305.4M92.25 302V305.4M93.75 302V322.4M94.25 302V321.9M94.75 302V321.9M95.25 302V321.9M95.25 302V314.9M123.75 302V293.3M124.25 302V293.3M124.75 302V288.2M125.25 302V288.2M125.75 302V294.7M126.25 302V294.7M128.75 302V294.7M129.25 302V294.7M133.25 302V296.5M133.75 302V304.4M133.75 302V307.4M136.75 302V287.5M139.75 302V289.0M140.25 302V296.0M141.75 302V290.5M142.25 302V290.5M142.75 302V304.9M142.75 302V287.5M143.25 302V287.5M144.25 302V309.4M146.75 302V313.4M148.25 302V313.4M152.75 302V290.0M153.25 302V296.0M153.75 302V296.0M154.25 302V290.5M158.75 302V311.4M158.75 302V299.0M159.25 302V299.0M159.75 302V296.5M160.25 302V309.4M161.75 302V299.0M162.25 302V299.0M164.25 302V294.7M170.75 302V287.5M171.25 302V287.5M171.75 302V291.7M172.25 302V291.7M187.75 302V299.0M188.25 302V293.3M198.25 302V289.0M198.25 302V293.3M199.75 302V294.7M200.25 302V294.7M202.75 302V299.0M203.25 302V299.0M211.25 302V296.6M211.75 302V286.0M212.25 302V286.0M212.75 302V314.9M221.25 302V310.8M222.75 302V310.7M225.75 302V315.9M255.75 302V304.9M264.25 302V313.2M277.75 302V307.4M307.75 302V307.4M312.75 302V307.4M326.25 302V313.2M331.25 302V315.4M332.75 302V316.6M333.25 302V316.6M376.25 302V307.4M378.75 302V317.4M379.25 302V310.8M405.75 302V309.1M443.75 302V304.9M457.25 302V304.9M483.75 302V315.9M485.25 302V309.1M486.75 302V311.4M497.75 302V307.4M507.75 302V314.4M508.25 302V315.1M508.75 302V313.2M512.75 302V318.9M517.75 302V313.4M518.25 302V314.9M518.75 302V316.4M519.25 302V317.9M519.75 302V319.4M520.25 302V323.4M525.75 302V310.8M526.25 302V310.8M531.75 302V307.4M533.75 302V307.4M537.25 302V318.4M537.75 302V307.4M538.25 302V307.4M544.25 302V304.9M545.75 302V314.9M546.25 302V314.9M551.25 302V309.1M578.75 302V296.6M588.75 302V294.9M589.25 302V294.9M593.25 302V307.4M603.25 302V314.9M604.25 302V293.3M607.75 302V314.4M608.25 302V313.4M608.75 302V313.2M609.25 302V313.2M611.75 302V311.9M615.75 302V310.9M616.25 302V313.4M616.75 302V317.4M650.75 302V297.0M651.25 302V297.0M651.75 302V297.0M652.25 302V296.6M652.25 302V297.0M661.75 302V299.0M662.25 302V295.2M662.75 302V295.2M663.25 302V295.2M663.75 302V294.9M663.75 302V295.2M664.25 302V290.7M664.25 302V295.2M664.75 302V294.9M664.75 302V295.2M665.25 302V294.9M665.25 302V295.2M665.75 302V295.2M666.25 302V295.2M666.25 302V295.2M666.75 302V288.2M666.75 302V292.0M666.75 302V295.2M666.75 302V294.9M666.75 302V294.9M666.75 302V295.2M676.75 302V293.3M676.75 302V296.6M676.75 302V296.8M677.25 302V296.8M677.75 302V296.8M678.25 302V286.5M678.25 302V296.8M680.75 302V290.7M680.75 302V296.5M681.25 302V290.7M681.25 302V296.5M682.75 302V286.5M682.75 302V296.5M683.25 302V296.5M683.75 302V296.5M684.25 302V296.5M684.75 302V296.5M685.25 302V293.3M685.25 302V296.5M686.75 302V296.5M687.25 302V294.9M687.25 302V296.5M688.75 302V296.6M688.75 302V296.5M690.25 302V295.5M690.75 302V291.7M690.75 302V295.5M692.25 302V295.5M692.75 302V286.8M692.75 302V294.9M692.75 302V295.5M693.25 302V285.4M693.25 302V294.9M693.25 302V295.5M693.75 302V290.0M693.75 302V295.5M696.25 302V296.0M696.75 302V294.9M696.75 302V296.0M697.25 302V287.5M697.25 302V296.0M697.75 302V296.0M698.25 302V296.0M698.75 302V287.5M698.75 302V296.0M699.25 302V294.9M699.25 302V296.0M699.75 302V294.9M699.75 302V296.0M700.25 302V290.7M700.25 302V296.0M704.25 302V296.5M704.75 302V296.5M705.25 302V293.3M705.25 302V293.3M705.25 302V296.5M705.75 302V293.3M705.75 302V284.1M705.75 302V296.5M706.25 302V296.5M706.75 302V299.0M707.25 302V299.0M707.25 302V299.0M708.75 302V296.5M708.75 302V296.5M709.25 302V283.5M709.25 302V296.5M709.25 302V294.9M709.25 302V296.5M709.75 302V283.5M709.75 302V296.5M710.25 302V294.9M710.25 302V296.5M718.75 302V288.2M718.75 302V295.5M719.25 302V295.5M719.75 302V295.5M720.25 302V289.0M720.25 302V295.5M721.75 302V288.9M721.75 302V295.5M722.25 302V294.9M722.25 302V295.5M723.75 302V299.0M723.75 302V299.0M724.25 302V299.0M724.25 302V299.0M725.75 302V296.6M725.75 302V296.6M726.25 302V296.6M726.25 302V296.6M731.75 302V284.1M731.75 302V294.5M732.25 302V287.0M732.25 302V294.5M736.75 302V299.0M739.75 302V294.5M740.25 302V292.0M740.25 302V294.5M740.75 302V292.0M740.75 302V294.5M741.25 302V294.5M741.75 302V294.5M742.25 302V293.3M742.25 302V294.5M742.75 302V296.6M742.75 302V296.6M743.25 302V296.6M745.75 302V292.0M745.75 302V292.0M745.75 302V296.2M746.25 302V292.0M746.25 302V296.2M751.75 302V296.6M752.25 302V294.5M752.75 302V294.5M753.25 302V294.5M753.75 302V294.5M754.25 302V294.5M754.75 302V294.5M755.25 302V294.5M755.75 302V287.0M755.75 302V294.5M756.25 302V287.0M756.25 302V294.5M756.75 302V294.5M757.25 302V294.5M761.25 302V296.2M761.75 302V296.2M762.25 302V296.2M762.75 302V288.9M762.75 302V296.2M763.25 302V292.0M763.25 302V296.2M766.75 302V296.2M767.25 302V296.2M767.75 302V288.9M767.75 302V296.2M769.25 302V296.2M771.25 302V296.2M771.75 302V296.2M772.25 302V296.2M772.75 302V296.2M773.25 302V296.2M773.75 302V296.2M774.25 302V296.2M774.75 302V285.0M774.75 302V296.2M776.25 302V290.7M776.25 302V296.2M778.75 302V296.6M779.25 302V295.8M779.75 302V295.8M780.25 302V295.8M780.75 302V284.5M780.75 302V295.8M783.25 302V295.8M783.75 302V283.0M783.75 302V295.8M785.25 302V296.6M785.25 302V296.6M789.25 302V284.6M789.25 302V296.2M789.75 302V292.0M789.75 302V296.2M792.25 302V296.2M792.75 302V296.2M793.25 302V296.2M793.25 302V296.2M793.75 302V296.2M793.75 302V296.2M797.25 302V290.7M797.25 302V296.2M797.75 302V296.2M800.25 302V286.0M800.25 302V286.0M800.25 302V296.2M800.75 302V296.2M801.25 302V296.6M802.75 302V293.3M805.25 302V304.9M807.25 302V294.7M807.75 302V313.4M808.25 302V313.4M811.75 302V304.9M815.25 302V309.1M820.75 302V315.9M827.75 302V304.9M829.25 302V307.4M839.75 302V310.8M840.25 302V310.8M845.25 302V309.1M861.75 302V314.9M862.25 302V314.9M882.75 302V294.9M883.25 302V294.9M885.25 302V296.5M885.75 302V296.6M885.75 302V296.5M886.25 302V296.6M886.25 302V296.5M886.75 302V296.5M887.25 302V296.5M887.75 302V296.5M888.25 302V296.5M888.75 302V299.0M888.75 302V296.5M891.25 302V286.5M891.25 302V296.5M891.75 302V296.5M892.25 302V296.5M892.75 302V296.5M893.25 302V296.5M893.75 302V296.5M894.25 302V296.5M894.25 302V299.0M894.75 302V296.5M894.75 302V299.0M896.25 302V285.4M896.25 302V296.5M896.75 302V296.5M900.75 302V321.4M900.75 302V314.4M905.25 302V293.3M915.25 302V296.0M915.75 302V296.0M916.25 302V296.0M916.75 302V292.0M916.75 302V296.0M917.25 302V288.0M917.25 302V288.0M917.25 302V296.0M917.25 302V296.0M917.75 302V281.8M917.75 302V288.0M917.75 302V296.0M917.75 302V288.0M917.75 302V288.0M917.75 302V296.0M918.25 302V281.8M918.25 302V288.0M918.25 302V288.0M918.25 302V288.0M918.25 302V296.0M918.25 302V296.0M918.75 302V288.0M918.75 302V296.0M918.75 302V288.0M918.75 302V296.0M919.25 302V304.9M919.25 302V288.0M919.25 302V288.0M919.25 302V296.0M919.25 302V296.0M919.75 302V288.0M919.75 302V296.0M919.75 302V288.0M919.75 302V296.0M920.25 302V294.9M920.25 302V296.0M920.75 302V296.0M921.25 302V296.0M926.25 302V299.0M926.75 302V307.4M928.75 302V288.9M928.75 302V296.0M928.75 302V296.0M928.75 302V296.0M929.25 302V289.0M929.25 302V296.0M929.25 302V296.0M929.25 302V296.0M929.75 302V304.9M929.75 302V296.0M929.75 302V296.0M935.75 302V294.9M935.75 302V296.0M936.25 302V294.9M936.25 302V296.0M943.75 302V288.9M944.25 302V293.3M945.75 302V296.6M946.25 302V296.6M974.25 302V294.9M990.25 302V290.5M990.25 302V290.5M990.75 302V290.5M990.75 302V290.5M991.25 302V290.5M991.25 302V290.5M992.75 302V299.0M993.25 302V294.2M993.75 302V294.2M994.25 302V294.2M994.75 302V294.2M995.25 302V294.2M995.75 302V294.2M997.75 302V296.8M998.25 302V296.8M998.25 302V296.8M998.75 302V296.8M998.75 302V296.8M999.25 302V296.8M999.75 302V278.9M999.75 302V296.8M1000.25 302V296.6M1000.25 302V296.8M1002.25 302V294.2M1002.75 302V294.2M1003.25 302V294.2M1003.75 302V294.2M1004.25 302V294.2M1007.25 302V292.3M1007.75 302V292.3M1008.25 302V292.3M1008.25 302V292.3M1008.75 302V288.2M1008.75 302V292.3M1008.75 302V292.3M1008.75 302V292.3M1009.25 302V288.2M1009.25 302V292.3M1009.25 302V292.3M1009.25 302V292.3M1009.75 302V292.3M1009.75 302V292.3M1010.25 302V292.3M1010.25 302V292.3M1010.75 302V292.3M1010.75 302V292.3M1011.25 302V292.3M1011.25 302V292.3M1011.75 302V292.3M1011.75 302V292.3M1015.25 302V287.3M1015.25 302V287.3M1015.75 302V287.3M1015.75 302V287.3M1016.25 302V287.3M1016.25 302V287.3M1016.75 302V287.3M1016.75 302V287.3M1017.25 302V287.3M1017.25 302V287.3M1017.75 302V287.3M1017.75 302V287.3M1018.25 302V287.3M1018.25 302V287.3M1018.75 302V287.3M1018.75 302V296.0M1018.75 302V287.3M1018.75 302V296.0M1019.25 302V288.2M1019.25 302V296.0M1019.75 302V288.9M1019.75 302V296.0M1022.25 302V296.6M1022.25 302V296.6M1022.25 302V296.0M1022.25 302V296.0M1022.75 302V296.0M1022.75 302V296.0M1024.25 302V296.0M1024.75 302V296.0M1025.25 302V296.0M1025.75 302V296.0M1026.25 302V296.0M1028.75 302V315.9M1029.25 302V315.9M1032.75 302V296.5M1033.25 302V294.9M1033.25 302V296.5M1034.75 302V296.5M1035.25 302V290.7M1035.25 302V296.5M1036.75 302V299.0M1036.75 302V296.5M1037.25 302V289.2M1037.25 302V289.2M1037.75 302V289.2M1037.75 302V289.2M1038.25 302V289.2M1038.25 302V289.2M1038.75 302V289.2M1038.75 302V289.2M1039.25 302V289.2M1039.25 302V289.2M1039.75 302V289.2M1039.75 302V289.2M1040.25 302V289.2M1040.25 302V289.2M1040.75 302V288.9M1040.75 302V289.2M1040.75 302V289.2M1040.75 302V289.2M1044.75 302V290.7M1044.75 302V291.0M1044.75 302V291.0M1044.75 302V291.0M1045.25 302V277.5M1045.25 302V291.0M1045.25 302V291.0M1045.25 302V291.0M1045.75 302V291.0M1045.75 302V291.0M1046.25 302V291.0M1046.25 302V291.0M1046.75 302V291.0M1046.75 302V291.0M1047.25 302V291.0M1047.25 302V291.0M1047.25 302V291.0M1047.75 302V291.0M1047.75 302V291.0M1047.75 302V291.0M1048.25 302V291.0M1048.25 302V291.0M1048.25 302V291.0M1048.75 302V291.0M1048.75 302V291.0M1048.75 302V291.0M1071.75 302V296.6M1072.25 302V296.6M1079.75 302V288.2M1079.75 302V294.2M1080.25 302V293.3M1080.25 302V294.2M1087.75 302V296.6M1093.75 302V299.0M1094.25 302V293.3M1094.25 302V293.3M1094.75 302V285.0M1094.75 302V293.3M1094.75 302V293.3M1094.75 302V293.3M1095.25 302V279.7M1095.25 302V293.3M1095.25 302V293.3M1095.25 302V293.3M1095.75 302V286.0M1095.75 302V293.3M1095.75 302V293.3M1095.75 302V293.3M1096.25 302V286.0M1096.25 302V293.3M1096.25 302V293.3M1096.25 302V293.3M1096.75 302V293.3M1096.75 302V293.3M1096.75 302V293.3M1096.75 302V293.3M1098.75 302V293.3M1098.75 302V293.3M1098.75 302V293.3M1098.75 302V293.3M1099.25 302V283.0M1099.25 302V293.3M1099.25 302V293.3M1099.25 302V293.3M1099.75 302V288.9M1099.75 302V293.3M1099.75 302V293.3M1099.75 302V293.3M1100.25 302V288.9M1100.25 302V293.3M1100.25 302V293.3M1100.25 302V293.3M1100.75 302V293.3M1100.75 302V293.3M1101.25 302V293.3M1101.25 302V293.3M1101.75 302V293.3M1101.75 302V293.3M1101.75 302V293.3M1101.75 302V293.3M1102.25 302V293.3M1102.25 302V293.3M1102.25 302V293.3M1102.25 302V293.3M1102.75 302V293.3M1102.75 302V293.3M1130.75 302V299.0M1131.25 302V299.0" stroke="#000" stroke-width="0.8" fill="none"/>
<path d="M599.5 302V347.6" stroke="#ff0000" stroke-width="0.8" fill="none"/>
<path d="M620 302V347.6" stroke="#ff0000" stroke-width="0.85" fill="none"/>
<rect x="81" y="301" width="1057" height="2" fill="#fff"/>
<line x1="81" y1="302" x2="1138" y2="302" stroke="#000" stroke-width="1.5"/>
<rect x="39" y="239" width="1141" height="112.5" fill="none" stroke="#000" stroke-width="0.75" stroke-opacity="1"/>
<line x1="39" y1="243.4" x2="39" y2="340.8" stroke="#000" stroke-width="0.75"/>
<line x1="33.8" y1="243.5" x2="39" y2="243.5" stroke="#000" stroke-width="0.75"/>
<text x="28.6" y="243.5" font-size="7.92" fill="#000" stroke="#000" stroke-width="0.22" text-anchor="middle" transform="rotate(-90 28.6 243.5)">6</text>
<line x1="33.8" y1="263.4" x2="39" y2="263.4" stroke="#000" stroke-width="0.75"/>
<text x="28.6" y="263.4" font-size="7.92" fill="#000" stroke="#000" stroke-width="0.22" text-anchor="middle" transform="rotate(-90 28.6 263.4)">4</text>
<line x1="33.8" y1="282.5" x2="39" y2="282.5" stroke="#000" stroke-width="0.75"/>
<text x="28.6" y="282.5" font-size="7.92" fill="#000" stroke="#000" stroke-width="0.22" text-anchor="middle" transform="rotate(-90 28.6 282.5)">2</text>
<line x1="33.8" y1="302" x2="39" y2="302" stroke="#000" stroke-width="0.75"/>
<text x="28.6" y="302" font-size="7.92" fill="#000" stroke="#000" stroke-width="0.22" text-anchor="middle" transform="rotate(-90 28.6 302)">0</text>
<line x1="33.8" y1="321.5" x2="39" y2="321.5" stroke="#000" stroke-width="0.75"/>
<text x="28.6" y="321.5" font-size="7.92" fill="#000" stroke="#000" stroke-width="0.22" text-anchor="middle" transform="rotate(-90 28.6 321.5)">-2</text>
<line x1="33.8" y1="341" x2="39" y2="341" stroke="#000" stroke-width="0.75"/>
<text x="28.6" y="341" font-size="7.92" fill="#000" stroke="#000" stroke-width="0.22" text-anchor="middle" transform="rotate(-90 28.6 341)">-4</text>
<text x="9.4" y="295.25" font-size="7.92" fill="#000" stroke="#000" stroke-width="0.22" text-anchor="middle" textLength="53" lengthAdjust="spacing" transform="rotate(-90 9.4 295.25)">log2 tag density</text>
<line x1="315.2" y1="351.5" x2="1019.2" y2="351.5" stroke="#000" stroke-width="0.75"/>
<line x1="315.2" y1="351.5" x2="315.2" y2="356.9" stroke="#000" stroke-width="0.75"/>
<text x="315.2" y="369.9" font-size="7.92" fill="#000" stroke="#000" stroke-width="0.22" text-anchor="middle" textLength="20" lengthAdjust="spacing">20000</text>
<line x1="667.2" y1="351.5" x2="667.2" y2="356.9" stroke="#000" stroke-width="0.75"/>
<text x="667.2" y="369.9" font-size="7.92" fill="#000" stroke="#000" stroke-width="0.22" text-anchor="middle" textLength="20" lengthAdjust="spacing">25000</text>
<line x1="1019.2" y1="351.5" x2="1019.2" y2="356.9" stroke="#000" stroke-width="0.75"/>
<text x="1019.2" y="369.9" font-size="7.92" fill="#000" stroke="#000" stroke-width="0.22" text-anchor="middle" textLength="20" lengthAdjust="spacing">30000</text>
<text x="610" y="223" font-size="9.5" fill="#000" stroke="#000" stroke-width="0" text-anchor="middle" font-weight="bold" textLength="124.5" lengthAdjust="spacing">xrn1 TS control, ribominus</text>
<text x="610" y="423" font-size="9.5" fill="#000" stroke="#000" stroke-width="0" text-anchor="middle" font-weight="bold" textLength="55.8" lengthAdjust="spacing">Annotations</text>
<clipPath id="c"><rect x="39" y="430" width="1142" height="130"/></clipPath><g clip-path="url(#c)">
<line x1="18.3" y1="464" x2="95.7" y2="464" stroke="#0000ff" stroke-width="0.75"/>
<text x="57" y="460.8" font-size="7.92" fill="#0000ff" stroke="#0000ff" stroke-width="0.22" text-anchor="middle" textLength="50" lengthAdjust="spacing">gene YCL064C</text>
<line x1="124.2" y1="453.4" x2="213.8" y2="453.4" stroke="#0000ff" stroke-width="0.75"/>
<path d="M207.56 449.80L213.8 453.4L207.56 457.00" stroke="#0000ff" stroke-width="0.75" fill="none"/>
<text x="169" y="450.2" font-size="7.92" fill="#0000ff" stroke="#0000ff" stroke-width="0.22" text-anchor="middle" textLength="52" lengthAdjust="spacing">gene YCL063W</text>
<line x1="231.2" y1="464" x2="463.8" y2="464" stroke="#0000ff" stroke-width="0.75"/>
<path d="M237.44 460.40L231.2 464L237.44 467.60" stroke="#0000ff" stroke-width="0.75" fill="none"/>
<text x="347.5" y="460.8" font-size="7.92" fill="#0000ff" stroke="#0000ff" stroke-width="0.22" text-anchor="middle" textLength="50" lengthAdjust="spacing">gene YCL061C</text>
<line x1="486.2" y1="464" x2="553.3" y2="464" stroke="#0000ff" stroke-width="0.75"/>
<path d="M492.44 460.40L486.2 464L492.44 467.60" stroke="#0000ff" stroke-width="0.75" fill="none"/>
<text x="519.75" y="460.8" font-size="7.92" fill="#0000ff" stroke="#0000ff" stroke-width="0.22" text-anchor="middle" textLength="50" lengthAdjust="spacing">gene YCL059C</text>
<line x1="567" y1="453.4" x2="592" y2="453.4" stroke="#0000ff" stroke-width="0.75"/>
<path d="M585.76 449.80L592 453.4L585.76 457.00" stroke="#0000ff" stroke-width="0.75" fill="none"/>
<text x="579.5" y="450.2" font-size="7.92" fill="#0000ff" stroke="#0000ff" stroke-width="0.22" text-anchor="middle" textLength="60" lengthAdjust="spacing">gene YCL058W-A</text>
<line x1="563.3" y1="464" x2="595.8" y2="464" stroke="#0000ff" stroke-width="0.75"/>
<path d="M569.54 460.40L563.3 464L569.54 467.60" stroke="#0000ff" stroke-width="0.75" fill="none"/>
<text x="579.55" y="460.8" font-size="7.92" fill="#0000ff" stroke="#0000ff" stroke-width="0.22" text-anchor="middle" textLength="50" lengthAdjust="spacing">gene YCL058C</text>
<line x1="599" y1="464" x2="620" y2="464" stroke="#0000ff" stroke-width="0.75"/>
<path d="M605.24 460.40L599 464L605.24 467.60" stroke="#0000ff" stroke-width="0.75" fill="none"/>
<text x="609.5" y="460.8" font-size="7.92" fill="#0000ff" stroke="#0000ff" stroke-width="0.22" text-anchor="middle" textLength="60" lengthAdjust="spacing">gene YCL057C-A</text>
<line x1="650.7" y1="453.4" x2="802.1" y2="453.4" stroke="#0000ff" stroke-width="0.75"/>
<path d="M795.86 449.80L802.1 453.4L795.86 457.00" stroke="#0000ff" stroke-width="0.75" fill="none"/>
<text x="726.4" y="450.2" font-size="7.92" fill="#0000ff" stroke="#0000ff" stroke-width="0.22" text-anchor="middle" textLength="52" lengthAdjust="spacing">gene YCL057W</text>
<line x1="801.9" y1="464" x2="833.9" y2="464" stroke="#0000ff" stroke-width="0.75"/>
<path d="M808.14 460.40L801.9 464L808.14 467.60" stroke="#0000ff" stroke-width="0.75" fill="none"/>
<text x="817.9" y="460.8" font-size="7.92" fill="#0000ff" stroke="#0000ff" stroke-width="0.22" text-anchor="middle" textLength="50" lengthAdjust="spacing">gene YCL056C</text>
<line x1="873.3" y1="453.4" x2="944.8" y2="453.4" stroke="#0000ff" stroke-width="0.75"/>
<path d="M938.56 449.80L944.8 453.4L938.56 457.00" stroke="#0000ff" stroke-width="0.75" fill="none"/>
<text x="909.05" y="450.2" font-size="7.92" fill="#0000ff" stroke="#0000ff" stroke-width="0.22" text-anchor="middle" textLength="52" lengthAdjust="spacing">gene YCL055W</text>
<line x1="1121.2" y1="453.4" x2="1300" y2="453.4" stroke="#0000ff" stroke-width="0.75"/>
<path d="M1293.76 449.80L1300 453.4L1293.76 457.00" stroke="#0000ff" stroke-width="0.75" fill="none"/>
<line x1="835.5" y1="526.4" x2="849.7" y2="526.4" stroke="#000" stroke-width="0.75"/>
<path d="M841.74 522.80L835.5 526.4L841.74 530.00" stroke="#000" stroke-width="0.75" fill="none"/>
<text x="842.6" y="523.7" font-size="7.92" fill="#000" stroke="#000" stroke-width="0.22" text-anchor="middle" textLength="48.3" lengthAdjust="spacing">CUT CUT459</text>
<line x1="921.7" y1="526.4" x2="957.2" y2="526.4" stroke="#000" stroke-width="0.75"/>
<path d="M927.94 522.80L921.7 526.4L927.94 530.00" stroke="#000" stroke-width="0.75" fill="none"/>
<text x="939.45" y="523.7" font-size="7.92" fill="#000" stroke="#000" stroke-width="0.22" text-anchor="middle" textLength="48.3" lengthAdjust="spacing">CUT CUT460</text>
<line x1="1013" y1="526.4" x2="1048.7" y2="526.4" stroke="#000" stroke-width="0.75"/>
<path d="M1019.24 522.80L1013 526.4L1019.24 530.00" stroke="#000" stroke-width="0.75" fill="none"/>
<text x="1030.85" y="523.7" font-size="7.92" fill="#000" stroke="#000" stroke-width="0.22" text-anchor="middle" textLength="48.3" lengthAdjust="spacing">CUT CUT461</text>
<line x1="1078.8" y1="526.4" x2="1103.7" y2="526.4" stroke="#000" stroke-width="0.75"/>
<path d="M1085.04 522.80L1078.8 526.4L1085.04 530.00" stroke="#000" stroke-width="0.75" fill="none"/>
<text x="1091.25" y="523.7" font-size="7.92" fill="#000" stroke="#000" stroke-width="0.22" text-anchor="middle" textLength="48.3" lengthAdjust="spacing">CUT CUT462</text>
<line x1="987" y1="536.8" x2="1057.8" y2="536.8" stroke="#ff0000" stroke-width="0.75"/>
<path d="M1051.56 533.20L1057.8 536.8L1051.56 540.40" stroke="#ff0000" stroke-width="0.75" fill="none"/>
<text x="1022.4" y="534.5" font-size="7.92" fill="#ff0000" stroke="#ff0000" stroke-width="0.22" text-anchor="middle" textLength="34.2" lengthAdjust="spacing">XUT 3F-5</text>
<line x1="1065.8" y1="536.8" x2="1107" y2="536.8" stroke="#ff0000" stroke-width="0.75"/>
<path d="M1100.76 533.20L1107 536.8L1100.76 540.40" stroke="#ff0000" stroke-width="0.75" fill="none"/>
<text x="1086.4" y="534.5" font-size="7.92" fill="#ff0000" stroke="#ff0000" stroke-width="0.22" text-anchor="middle" textLength="34.2" lengthAdjust="spacing">XUT 3F-6</text>
<line x1="1082.8" y1="547.3" x2="1103" y2="547.3" stroke="#ff0000" stroke-width="0.75"/>
<path d="M1089.04 543.70L1082.8 547.3L1089.04 550.90" stroke="#ff0000" stroke-width="0.75" fill="none"/>
<text x="1092.9" y="545" font-size="7.92" fill="#ff0000" stroke="#ff0000" stroke-width="0.22" text-anchor="middle" textLength="35" lengthAdjust="spacing">XUT 3R-8</text>
</g>
<text x="610" y="623" font-size="9.5" fill="#000" stroke="#000" stroke-width="0" text-anchor="middle" font-weight="bold" textLength="32.5" lengthAdjust="spacing">Legend</text>
<line x1="477" y1="664" x2="742" y2="664" stroke="#0000ff" stroke-width="0.75"/>
<path d="M735.76 660.40L742 664L735.76 667.60" stroke="#0000ff" stroke-width="0.75" fill="none"/>
<text x="610" y="655.4" font-size="7.92" fill="#0000ff" stroke="#0000ff" stroke-width="0.22" text-anchor="middle" textLength="20.5" lengthAdjust="spacing">genes</text>
<line x1="477" y1="705.6" x2="742" y2="705.6" stroke="#ff0000" stroke-width="0.75"/>
<path d="M735.76 702.00L742 705.6L735.76 709.20" stroke="#ff0000" stroke-width="0.75" fill="none"/>
<text x="610" y="697.6" font-size="7.92" fill="#ff0000" stroke="#ff0000" stroke-width="0.22" text-anchor="middle" textLength="20.5" lengthAdjust="spacing">XUTs</text>
<line x1="477" y1="747.5" x2="742" y2="747.5" stroke="#000" stroke-width="0.75"/>
<path d="M735.76 743.90L742 747.5L735.76 751.10" stroke="#000" stroke-width="0.75" fill="none"/>
<text x="610" y="739.6" font-size="7.92" fill="#000" stroke="#000" stroke-width="0.22" text-anchor="middle" textLength="17" lengthAdjust="spacing">other</text>
</svg>
</body></html>
